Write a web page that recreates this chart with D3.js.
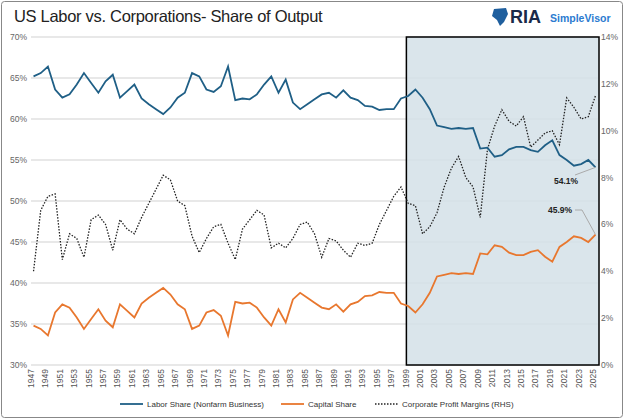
<!DOCTYPE html>
<html><head><meta charset="utf-8">
<script src="https://cdn.jsdelivr.net/npm/d3@7"></script>
<style>body{margin:0;background:#fff}svg{font-family:"Liberation Sans",Arial,sans-serif}</style>
</head><body><div id="chart"></div>
<script>
const years = d3.range(1947, 2026);
const labor = [65.2,65.6,66.4,63.6,62.6,63.0,64.2,65.6,64.4,63.2,64.6,65.4,62.6,63.4,64.2,62.5,61.8,61.2,60.6,61.4,
  62.6,63.2,65.6,65.2,63.6,63.3,64.0,66.4,62.3,62.5,62.4,63.0,64.2,65.2,63.2,64.8,62.0,61.2,61.8,62.4,
  63.0,63.2,62.6,63.5,62.6,62.3,61.6,61.5,61.1,61.2,61.2,62.5,62.8,63.6,62.6,61.2,59.2,59.0,58.8,58.9,
  58.8,58.9,56.4,56.5,55.4,55.6,56.3,56.6,56.6,56.2,56.0,56.8,57.4,55.6,55.0,54.3,54.5,55.0,54.1];
const capital = [34.8,34.4,33.6,36.4,37.4,37.0,35.8,34.4,35.6,36.8,35.4,34.6,37.4,36.6,35.8,37.5,38.2,38.8,39.4,38.6,
  37.4,36.8,34.4,34.8,36.4,36.7,36.0,33.6,37.7,37.5,37.6,37.0,35.8,34.8,36.8,35.2,38.0,38.8,38.2,37.6,
  37.0,36.8,37.4,36.5,37.4,37.7,38.4,38.5,38.9,38.8,38.8,37.5,37.2,36.4,37.4,38.8,40.8,41.0,41.2,41.1,
  41.2,41.1,43.6,43.5,44.6,44.4,43.7,43.4,43.4,43.8,44.0,43.2,42.6,44.4,45.0,45.7,45.5,45.0,45.9];
const profit = [4.0,6.6,7.2,7.3,4.5,5.6,5.4,4.6,6.2,6.4,6.0,4.9,6.2,5.8,5.6,6.3,6.9,7.5,8.1,7.9,
  7.0,6.8,5.5,4.8,5.4,5.9,6.0,5.2,4.5,5.8,6.2,6.6,6.4,5.0,5.2,5.0,5.4,6.0,6.1,5.6,
  4.6,5.4,5.3,4.9,4.6,5.2,5.1,5.2,6.0,6.6,7.2,7.6,6.9,6.8,5.6,5.9,6.5,7.6,8.4,8.9,
  8.0,7.6,6.3,9.2,10.2,10.9,10.4,10.2,10.6,9.3,9.6,9.9,10.0,9.4,11.4,11.0,10.5,10.6,11.5];
const leftTicks = [30,35,40,45,50,55,60,65,70];
const rightTicks = [0,2,4,6,8,10,12,14];
const xLabels = d3.range(1947, 2026, 2);
const shadeStart = 1999.1;

const W = 624, H = 419;
const svg = d3.select("#chart").append("svg").attr("width", W).attr("height", H);
svg.append("rect").attr("x",1.5).attr("y",1.5).attr("width",W-3).attr("height",H-3).attr("rx",3)
  .attr("fill","#fff").attr("stroke","#888");

const x = d3.scaleLinear().domain([1947, 2025]).range([31, 593]);
const yL = d3.scaleLinear().domain([30, 70]).range([365, 37]);
const yR = d3.scaleLinear().domain([0, 14]).range([365, 37]);
const xt = i => x(years[i] + 0.35);

// grid
svg.append("g").selectAll("line").data(leftTicks).join("line")
  .attr("x1", 31).attr("x2", 598).attr("y1", d => yL(d)).attr("y2", d => yL(d))
  .attr("stroke", "#e0e0e0").attr("stroke-width", 1.5);

// shaded region
svg.append("rect").attr("x", x(shadeStart)).attr("y", yL(70)).attr("width", 599 - x(shadeStart))
  .attr("height", yL(30) - yL(70)).attr("fill", "#d4e0e8").attr("fill-opacity", 0.85)
  .attr("stroke", "#000").attr("stroke-width", 1.5);

// axes labels
svg.append("g").selectAll("text").data(leftTicks).join("text")
  .attr("x", 27).attr("y", d => yL(d) + 3).attr("text-anchor", "end")
  .attr("font-size", 8.5).attr("fill", "#666").text(d => d + "%");
svg.append("g").selectAll("text").data(rightTicks).join("text")
  .attr("x", 601).attr("y", d => yR(d) + 3).attr("font-size", 8.5).attr("fill", "#666").text(d => d + "%");
svg.append("g").selectAll("text").data(xLabels).join("text")
  .attr("transform", d => `translate(${x(d) + 3},${369}) rotate(-90)`).attr("text-anchor", "end")
  .attr("font-size", 8.5).attr("fill", "#555").text(d => d);

const line = (arr, sc) => d3.line().x((d, i) => xt(i)).y(d => sc(d))(arr);
svg.append("path").attr("d", line(profit, yR)).attr("fill", "none").attr("stroke", "#222")
  .attr("stroke-width", 1.3).attr("stroke-dasharray", "1.5,1.5");
svg.append("path").attr("d", line(labor, yL)).attr("fill", "none").attr("stroke", "#1f5f86").attr("stroke-width", 1.8);
svg.append("path").attr("d", line(capital, yL)).attr("fill", "none").attr("stroke", "#e8772e").attr("stroke-width", 1.8);

// annotations
const n = years.length - 1;
svg.append("line").attr("x1", xt(n)).attr("y1", yL(labor[n])).attr("x2", 575).attr("y2", 175).attr("stroke", "#aaa");
svg.append("text").attr("x", 566).attr("y", 184).attr("text-anchor", "middle").attr("font-size", 8.5)
  .attr("font-weight", "bold").attr("fill", "#222").text(labor[n].toFixed(1) + "%");
svg.append("polyline").attr("points", `${575},${210} ${582},${210} ${xt(n)},${yL(capital[n])}`)
  .attr("fill", "none").attr("stroke", "#aaa");
svg.append("text").attr("x", 560).attr("y", 213).attr("text-anchor", "middle").attr("font-size", 8.5)
  .attr("font-weight", "bold").attr("fill", "#222").text(capital[n].toFixed(1) + "%");

// title and logo
svg.append("text").attr("x", 14).attr("y", 22).attr("font-size", 16.5).attr("fill", "#222")
  .attr("letter-spacing", -0.3).text("US Labor vs. Corporations- Share of Output");
svg.append("path").attr("d", "M494,9 L506,8 L508,14 L504,22 L500,26 L497,20 L492,16 Z").attr("fill", "#1f5f9e");
svg.append("text").attr("x", 510).attr("y", 23).attr("font-size", 18).attr("font-weight", "bold")
  .attr("fill", "#1a2a4a").text("RIA");
svg.append("text").attr("x", 550).attr("y", 22).attr("font-size", 10.5).attr("font-weight", "bold")
  .attr("fill", "#2b7bd0").text("SimpleVisor");

// legend
const lg = svg.append("g").attr("font-size", 8).attr("fill", "#333");
const items = [
  {x: 120, label: "Labor Share (Nonfarm Business)", color: "#1f5f86", dash: null},
  {x: 281, label: "Capital Share", color: "#e8772e", dash: null},
  {x: 375, label: "Corporate Profit Margins (RHS)", color: "#222", dash: "1.5,1.5"}
];
items.forEach(it => {
  lg.append("line").attr("x1", it.x).attr("x2", it.x + 23).attr("y1", 404).attr("y2", 404)
    .attr("stroke", it.color).attr("stroke-width", it.dash ? 1.3 : 1.8).attr("stroke-dasharray", it.dash);
  lg.append("text").attr("x", it.x + 27).attr("y", 407).text(it.label);
});
</script></body></html>
